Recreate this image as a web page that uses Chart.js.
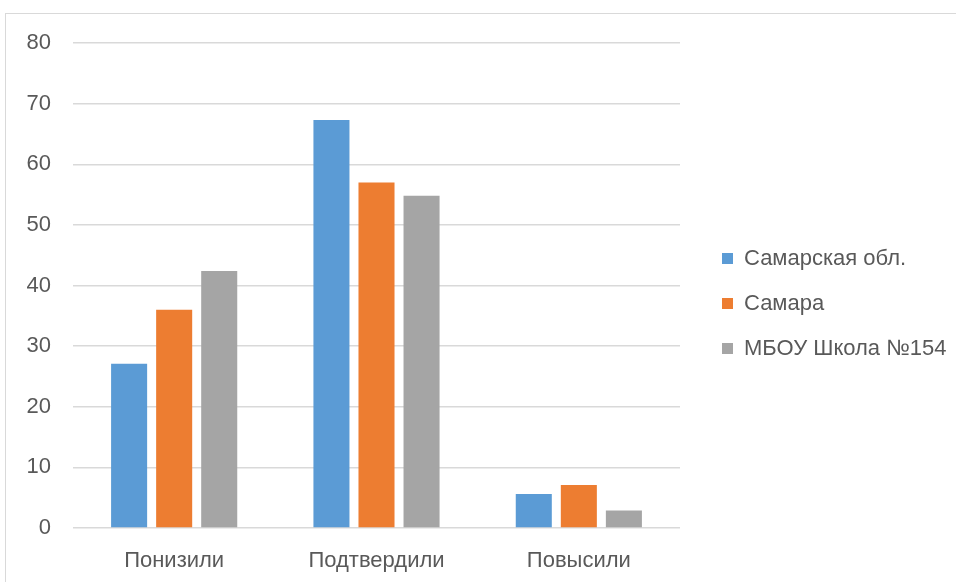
<!DOCTYPE html>
<html><head><meta charset="utf-8">
<script src="https://cdn.jsdelivr.net/npm/chart.js@4.4.1/dist/chart.umd.min.js"></script>
<style>
html,body{margin:0;padding:0;background:#fff;width:956px;height:582px;overflow:hidden}
#wrap{position:absolute;left:0;top:0;width:956px;height:582px}
#frame{position:absolute;left:5px;top:13px;width:1000px;height:600px;border-left:1.5px solid #d9d9d9;border-top:1.5px solid #d9d9d9;pointer-events:none}
</style></head>
<body>
<div id="wrap"><canvas id="c" width="956" height="582"></canvas></div>
<div id="frame"></div>
<script>
const categories = ["Понизили", "Подтвердили", "Повысили"];
const seriesNames = ["Самарская обл.", "Самара", "МБОУ Школа №154"];
const samarskayaObl = [27.1, 67.3, 5.6];
const samara = [36.0, 57.0, 7.1];
const school154 = [42.4, 54.8, 2.9];
const yTicks = [0, 10, 20, 30, 40, 50, 60, 70, 80];
const colors = ["#5B9BD5", "#ED7D31", "#A5A5A5"];

const font = "'Liberation Sans', 'DejaVu Sans', sans-serif";
const legendBoxWidth = 276, legendShiftX = 19, legendShiftY = -9;
const legendGap = {
  id: 'legendGap',
  beforeLayout(chart) {
    const lg = chart.legend;
    if (lg && !lg._gapPatched) {
      const f = lg.fit.bind(lg);
      lg.fit = function () { f(); this.width = legendBoxWidth; };
      lg._gapPatched = true;
    }
  },
  afterLayout(chart) {
    const lg = chart.legend;
    if (lg) {
      lg.left += legendShiftX; lg.right += legendShiftX;
      lg.top += legendShiftY; lg.bottom += legendShiftY;
    }
  }
};

new Chart(document.getElementById('c'), {
  type: 'bar',
  data: {
    labels: categories,
    datasets: [samarskayaObl, samara, school154].map((d, i) => ({
      label: seriesNames[i], data: d, backgroundColor: colors[i],
      categoryPercentage: 0.668, barPercentage: 0.8
    }))
  },
  plugins: [legendGap],
  options: {
    responsive: false, animation: false,
    layout: {padding: {left: 0, top: 43, right: 0, bottom: 0}},
    plugins: {
      tooltip: {enabled: false},
      legend: {
        position: 'right', align: 'center',
        labels: {boxWidth: 11, boxHeight: 11, padding: 23, color: '#595959',
          font: {family: font, size: 22}}
      }
    },
    scales: {
      x: {
        grid: {display: false}, border: {display: false},
        afterFit: s => { s.height = 54; },
        ticks: {color: '#595959', padding: 12, font: {family: font, size: 22}}
      },
      y: {
        min: 0, max: 80,
        afterBuildTicks: s => { s.ticks = yTicks.map(v => ({value: v})); },
        afterFit: s => { s.width = 73; },
        grid: {color: '#d9d9d9', lineWidth: 1.5, drawTicks: false},
        border: {display: false},
        ticks: {color: '#595959', padding: 22, font: {family: font, size: 22}}
      }
    }
  }
});
</script>
</body></html>
